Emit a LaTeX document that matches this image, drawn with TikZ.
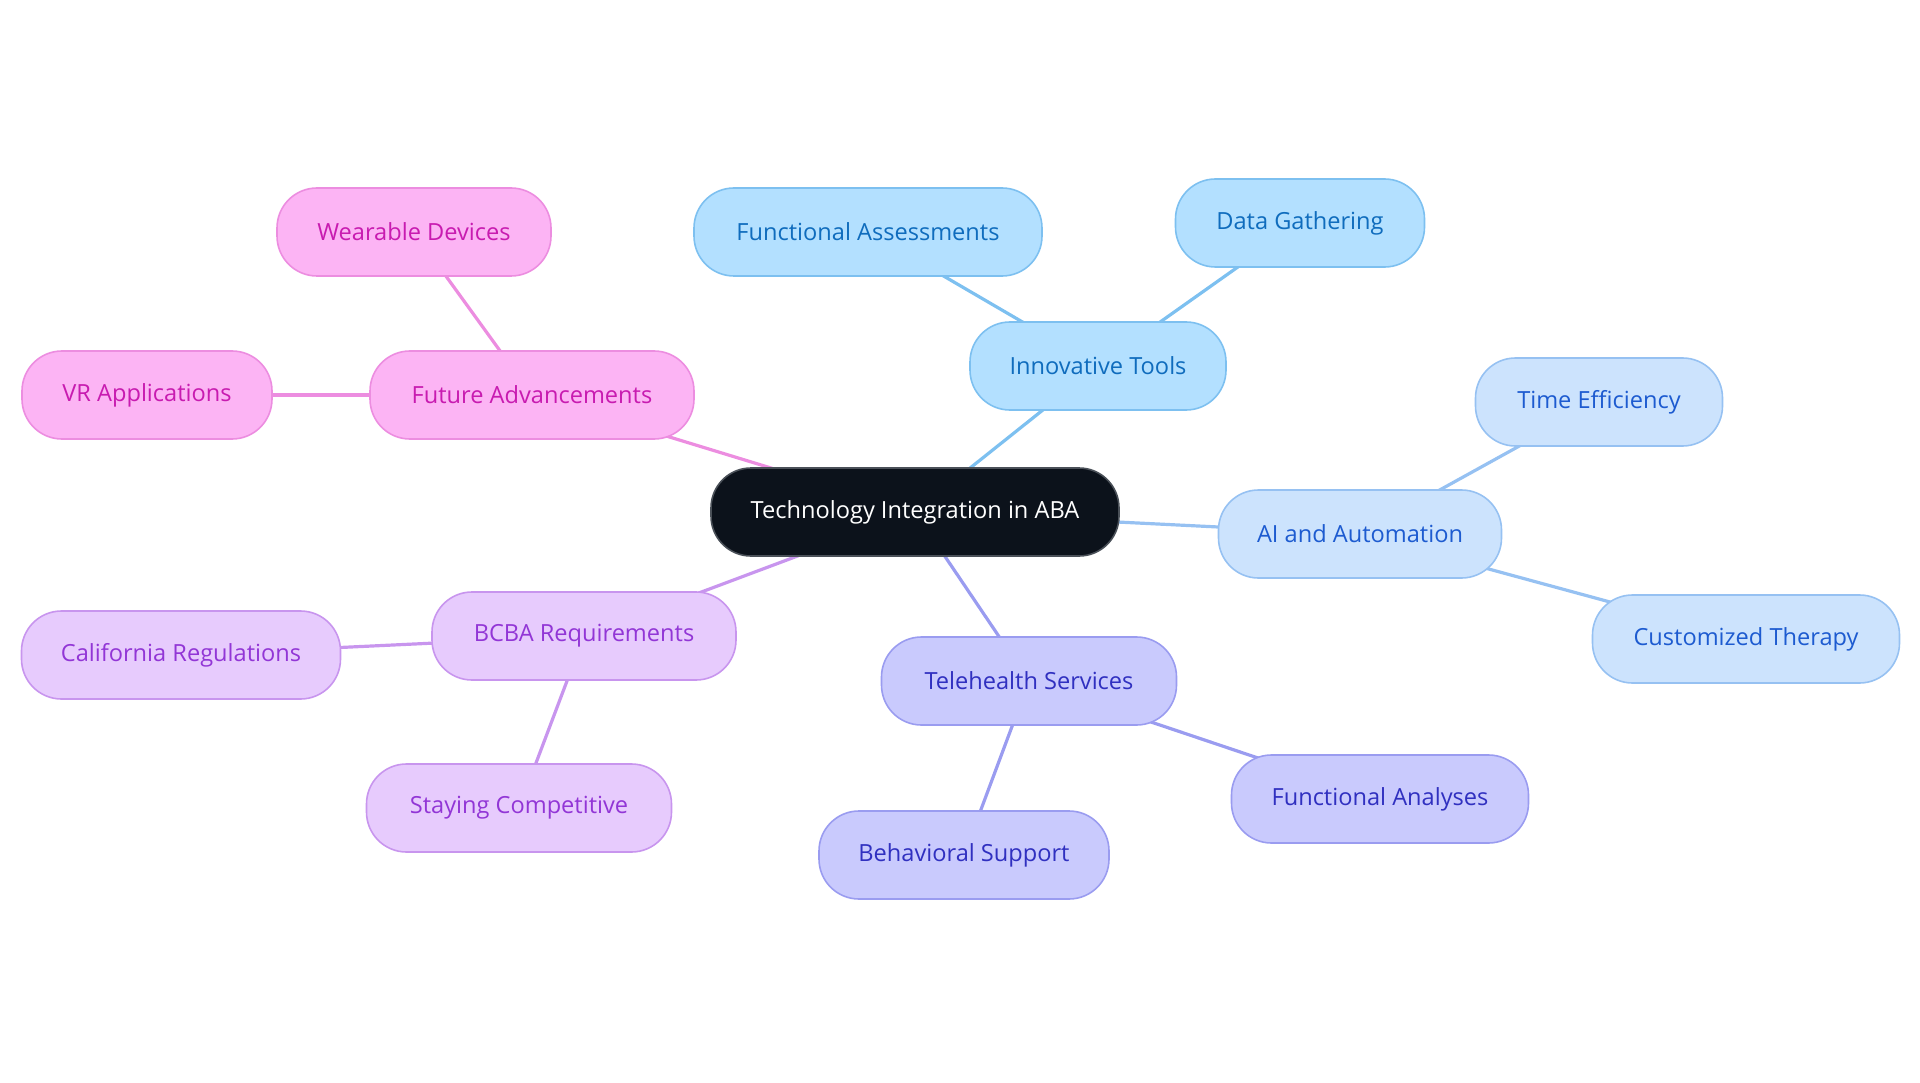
\documentclass[tikz,border=0pt]{standalone}
\usepackage{fontspec}
\setmainfont{Open Sans}
\usetikzlibrary{backgrounds}
\definecolor{ctrfill}{HTML}{0C121B}
\definecolor{ctrdraw}{HTML}{4A5058}
\definecolor{bAfill}{HTML}{B3E0FF}
\definecolor{bAdraw}{HTML}{7DC0F0}
\definecolor{bAtext}{HTML}{0F6CBD}
\definecolor{bBfill}{HTML}{CCE3FD}
\definecolor{bBdraw}{HTML}{96C1F2}
\definecolor{bBtext}{HTML}{1D5BD0}
\definecolor{bCfill}{HTML}{C9CAFD}
\definecolor{bCdraw}{HTML}{9A9CF0}
\definecolor{bCtext}{HTML}{3030C0}
\definecolor{bDfill}{HTML}{E7CBFD}
\definecolor{bDdraw}{HTML}{C895EE}
\definecolor{bDtext}{HTML}{9236D6}
\definecolor{bEfill}{HTML}{FCB4F4}
\definecolor{bEdraw}{HTML}{EC8DE0}
\definecolor{bEtext}{HTML}{C81BB0}
\tikzset{
  mm/.style={rectangle, rounded corners=40pt, minimum height=88pt, line width=1.6pt,
    font=\fontsize{23.6}{28}\selectfont, inner sep=0pt},
  ctr/.style={mm, fill=ctrfill, draw=ctrdraw, text=white},
  grpA/.style={mm, fill=bAfill, draw=bAdraw, text=bAtext},
  grpB/.style={mm, fill=bBfill, draw=bBdraw, text=bBtext},
  grpC/.style={mm, fill=bCfill, draw=bCdraw, text=bCtext},
  grpD/.style={mm, fill=bDfill, draw=bDdraw, text=bDtext},
  grpE/.style={mm, fill=bEfill, draw=bEdraw, text=bEtext},
  lnA/.style={draw=bAdraw, line width=3.2pt},
  lnB/.style={draw=bBdraw, line width=3.2pt},
  lnC/.style={draw=bCdraw, line width=3.2pt},
  lnD/.style={draw=bDdraw, line width=3.2pt},
  lnE/.style={draw=bEdraw, line width=3.2pt},
}
\begin{document}
\begin{tikzpicture}[x=1pt,y=-1pt]
\useasboundingbox (0,0) rectangle (1920,1083);
\node[ctr, minimum width=408pt] (ctr) at (915,512) {Technology Integration in ABA};
\node[grpA, minimum width=256pt] (it) at (1098,366) {Innovative Tools};
\node[grpA, minimum width=348pt] (fa) at (868,232) {Functional Assessments};
\node[grpA, minimum width=249pt] (dg) at (1300,223) {Data Gathering};
\node[grpB, minimum width=283pt] (ai) at (1360,534) {AI and Automation};
\node[grpB, minimum width=247pt] (te) at (1599,402) {Time Efficiency};
\node[grpB, minimum width=307pt] (ct) at (1746,639) {Customized Therapy};
\node[grpC, minimum width=295pt] (th) at (1029,681) {Telehealth Services};
\node[grpC, minimum width=297pt] (fn) at (1380,799) {Functional Analyses};
\node[grpC, minimum width=290pt] (bs) at (964,855) {Behavioral Support};
\node[grpD, minimum width=304pt] (bc) at (584,636) {BCBA Requirements};
\node[grpD, minimum width=319pt] (cr) at (181,655) {California Regulations};
\node[grpD, minimum width=305pt] (sc) at (519,808) {Staying Competitive};
\node[grpE, minimum width=324pt] (fu) at (532,395) {Future Advancements};
\node[grpE, minimum width=250pt] (vr) at (147,395) {VR Applications};
\node[grpE, minimum width=274pt] (wd) at (414,232) {Wearable Devices};
\begin{scope}[on background layer]
\draw[lnA] (ctr.center) -- (it.center);
\draw[lnA] (it.center) -- (fa.center);
\draw[lnA] (it.center) -- (dg.center);
\draw[lnB] (ctr.center) -- (ai.center);
\draw[lnB] (ai.center) -- (te.center);
\draw[lnB] (ai.center) -- (ct.center);
\draw[lnC] (ctr.center) -- (th.center);
\draw[lnC] (th.center) -- (fn.center);
\draw[lnC] (th.center) -- (bs.center);
\draw[lnD] (ctr.center) -- (bc.center);
\draw[lnD] (bc.center) -- (cr.center);
\draw[lnD] (bc.center) -- (sc.center);
\draw[lnE] (ctr.center) -- (fu.center);
\draw[lnE] (fu.center) -- (vr.center);
\draw[lnE] (fu.center) -- (wd.center);
\end{scope}
\end{tikzpicture}
\end{document}
